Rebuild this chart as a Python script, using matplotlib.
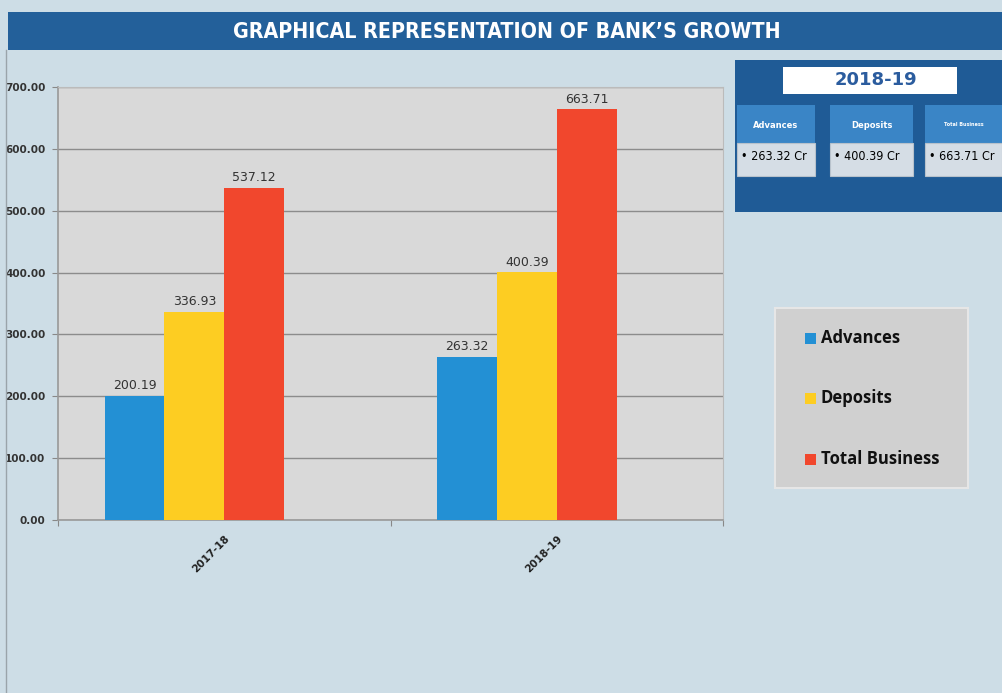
import matplotlib.pyplot as plt
import numpy as np
from matplotlib.patches import Rectangle

# Chart data
years = ['2017-18', '2018-19']
advances = [200.19, 263.32]
deposits = [336.93, 400.39]
total_business = [537.12, 663.71]
series_names = ['Advances', 'Deposits', 'Total Business']
colors = ['#2390D4', '#FDCD22', '#F1472D']

W, H = 1002, 693
fig = plt.figure(figsize=(W / 100, H / 100), dpi=100)
fig.patch.set_facecolor('#CDDDE6')


def box(x0, y0, x1, y1, **kw):
    # rectangle given in pixel coords measured from the top-left corner
    r = Rectangle((x0 / W, 1 - y1 / H), (x1 - x0) / W, (y1 - y0) / H,
                  transform=fig.transFigure, **kw)
    fig.add_artist(r)
    return r


def ptext(x, y, s, **kw):
    fig.text(x / W, 1 - y / H, s, **kw)


# Title band
box(8, 12, 1002, 50, facecolor='#23609A', edgecolor='none')
ptext(507, 32, "GRAPHICAL REPRESENTATION OF BANK\u2019S GROWTH", color='white',
      fontsize=15.3, fontweight='bold', ha='center', va='center',
      family='DejaVu Sans', fontstretch='condensed')
# thin left border
fig.add_artist(plt.Line2D([6 / W, 6 / W], [0, 1 - 50 / H], transform=fig.transFigure,
                          color='#9AA4AA', lw=1))

# Main bar chart
ax = fig.add_axes([58 / W, 1 - 520 / H, 665 / W, 433 / H])
ax.set_facecolor('#D9D9D9')
x = np.arange(len(years))
w = 0.18
offsets = [-0.27, -0.09, 0.09]
for vals, off, c in zip([advances, deposits, total_business], offsets, colors):
    bars = ax.bar(x + off, vals, width=w, color=c, zorder=3)
    for b, v in zip(bars, vals):
        ax.text(b.get_x() + b.get_width() / 2, v + 6, f'{v:.2f}', ha='center',
                va='bottom', fontsize=9, color='#333333', zorder=4)

ax.set_xlim(-0.5, 1.5)
ax.set_ylim(0, 700)
ax.set_yticks(np.arange(0, 701, 100))
ax.set_yticklabels([f'{v:.2f}' for v in np.arange(0, 701, 100)], fontsize=7.5,
                   fontweight='bold', color='#333333')
ax.yaxis.grid(True, color='#8C8C8C', lw=1, zorder=1)
ax.set_xticks([-0.5, 0.5, 1.5])
ax.set_xticklabels([])
ax.set_xticks(x, minor=True)
ax.set_xticklabels(years, minor=True, rotation=45, ha='right', rotation_mode='anchor',
                   fontsize=7.5, fontweight='bold', color='#222222')
ax.tick_params(axis='x', which='minor', length=0, pad=10)
ax.tick_params(axis='x', which='major', length=4, color='#888888')
ax.tick_params(axis='y', length=4, color='#888888', pad=5)
for s in ['top', 'right']:
    ax.spines[s].set_color('#BBBBBB')
for s in ['left', 'bottom']:
    ax.spines[s].set_color('#999999')
    ax.spines[s].set_linewidth(1.2)

# 2018-19 summary panel
box(735, 60, 1002, 212, facecolor='#1F5B96', edgecolor='none')
box(783, 67, 957, 94, facecolor='white', edgecolor='none')
ptext(876, 80, years[1], color='#2B5C9E', fontsize=13, fontweight='bold',
      ha='center', va='center')
tiles = [(737, 815), (830, 913), (925, 1002)]
tile_vals = [advances[1], deposits[1], total_business[1]]
head_sizes = [6, 6, 3.5]
for (x0, x1), name, v, fs in zip(tiles, series_names, tile_vals, head_sizes):
    box(x0, 105, x1, 143, facecolor='#3A85C6', edgecolor='none')
    ptext((x0 + x1) / 2, 125, name, color='white', fontsize=fs, fontweight='bold',
          ha='center', va='center')
    box(x0, 143, x1, 176, facecolor='#D5DDE5', edgecolor='#B8C2CC', lw=0.8)
    ptext(x0 + 4, 157, f'\u2022 {v:.2f} Cr', color='black', fontsize=9,
          ha='left', va='center', family='DejaVu Sans', fontstretch='condensed')

# Legend panel
box(775, 308, 968, 488, facecolor='#D0D0D0', edgecolor='#E6E6E6', lw=1.5)
for name, c, yy in zip(series_names, colors, [338, 398, 459]):
    box(805, yy - 5, 816, yy + 6, facecolor=c, edgecolor='none')
    ptext(821, yy, name, color='#111111', fontsize=12, fontweight='bold',
          ha='left', va='center', family='Open Sans')

fig.savefig('out.png', dpi=100, facecolor=fig.get_facecolor())
